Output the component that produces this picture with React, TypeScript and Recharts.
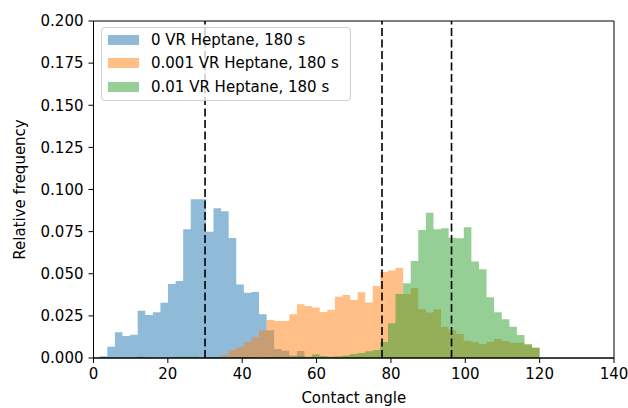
import { ComposedChart, Area, XAxis, YAxis, ReferenceLine, ReferenceArea } from 'recharts'

// shared histogram bins (degrees)
const binStart = 1.68
const binWidth = 2.04
const binCount = 58

const seriesNames = ['0 VR Heptane, 180 s', '0.001 VR Heptane, 180 s', '0.01 VR Heptane, 180 s']
const seriesColors = ['#1f77b4', '#ff7f0e', '#2ca02c']

const blueFirstBin = 0
const blueFreq = [
  0.001, 0.0067, 0.0153, 0.013, 0.0138, 0.028, 0.0255, 0.0271, 0.0328, 0.0439,
  0.0457, 0.0764, 0.0942, 0.0942, 0.075, 0.0888, 0.0871, 0.0712, 0.0436, 0.0387,
  0.0392, 0.026, 0.0164, 0.0053, 0.0043, 0.0015, 0.0042,
]

const orangeFirstBin = 16
const orangeFreq = [
  0.0016, 0.0046, 0.0064, 0.0095, 0.0123, 0.0164, 0.0226, 0.0219, 0.0219, 0.026,
  0.0319, 0.0309, 0.0299, 0.0273, 0.0287, 0.0364, 0.0374, 0.0344, 0.039, 0.033,
  0.0427, 0.051, 0.052, 0.0535, 0.038, 0.0415, 0.029, 0.027, 0.029, 0.0186,
  0.0165, 0.0142, 0.0103, 0.0093, 0.0083, 0.0097, 0.0113, 0.0101, 0.0091, 0.0091,
  0.0075, 0.006,
]

const greenFirstBin = 5
const greenFreq = [
  0.0007, 0, 0, 0, 0, 0.0007, 0.0008, 0.0007, 0, 0.0006,
  0.0006, 0, 0, 0.0006, 0.0006, 0, 0, 0.0005, 0.0007, 0.0008,
  0.0006, 0.001, 0.0008, 0.0022, 0.0012, 0.0008, 0.001, 0.0015, 0.0024, 0.003,
  0.004, 0.0047, 0.0095, 0.0206, 0.038, 0.0443, 0.0576, 0.076, 0.0862, 0.0764,
  0.077, 0.0714, 0.071, 0.0776, 0.0572, 0.0526, 0.036, 0.0271, 0.023, 0.0186,
  0.0136, 0.0083, 0.0063,
]

// dashed vertical lines (mean contact angles)
const meanAngles = [30.0, 77.6, 96.3]

const xTicks = [0, 20, 40, 60, 80, 100, 120, 140]
const yTicks = [0, 0.025, 0.05, 0.075, 0.1, 0.125, 0.15, 0.175, 0.2]

const valueAt = (freq: number[], first: number, j: number) =>
  j >= first && j < first + freq.length ? freq[j - first] : 0

const rows = Array.from({ length: binCount + 1 }, (_, j) => ({
  x: binStart + j * binWidth,
  blue: valueAt(blueFreq, blueFirstBin, j),
  orange: valueAt(orangeFreq, orangeFirstBin, j),
  green: valueAt(greenFreq, greenFirstBin, j),
}))

const font = 'DejaVu Sans, Verdana, sans-serif'
const tickStyle = { fill: '#000', fontSize: 15, fontFamily: font }

const rgba = (hex: string, a: number) => {
  const n = parseInt(hex.slice(1), 16)
  return `rgba(${(n >> 16) & 255}, ${(n >> 8) & 255}, ${n & 255}, ${a})`
}

function HistLegend() {
  return (
    <div
      style={{
        position: 'absolute',
        left: 101,
        top: 27,
        width: 250,
        height: 74,
        boxSizing: 'border-box',
        border: '1px solid #d0d0d0',
        borderRadius: 4,
        background: 'rgba(255,255,255,0.8)',
        fontFamily: font,
        fontSize: 15,
        color: '#000',
      }}
    >
      {seriesNames.map((name, i) => (
        <div key={name} style={{ position: 'absolute', left: 0, top: 11.5 + i * 23.5, height: 0 }}>
          <div
            style={{
              position: 'absolute',
              left: 6,
              top: -5,
              width: 31,
              height: 10,
              background: rgba(seriesColors[i], 0.5),
            }}
          />
          <span style={{ position: 'absolute', left: 49, top: -9, lineHeight: '18px', whiteSpace: 'nowrap' }}>
            {name}
          </span>
        </div>
      ))}
    </div>
  )
}

export default function App() {
  return (
    <div style={{ position: 'absolute', left: 0, top: 0, width: 628, height: 408, background: '#fff' }}>
      <ComposedChart width={628} height={408} data={rows} margin={{ top: 21, right: 14, bottom: 0, left: 0 }}>
        <XAxis
          dataKey="x"
          type="number"
          domain={[0, 140]}
          ticks={xTicks}
          height={50}
          tick={tickStyle}
          tickSize={5}
          tickMargin={5}
          stroke="#000"
          label={{
            value: 'Contact angle',
            position: 'insideBottom',
            offset: 5,
            style: { fill: '#000', fontSize: 15, fontFamily: font },
          }}
        />
        <YAxis
          type="number"
          domain={[0, 0.2]}
          ticks={yTicks}
          width={93.5}
          tick={tickStyle}
          tickSize={5}
          tickMargin={5}
          stroke="#000"
          tickFormatter={(v: number) => v.toFixed(3)}
          label={{
            value: 'Relative frequency',
            angle: -90,
            position: 'insideLeft',
            offset: 20,
            style: { fill: '#000', fontSize: 15, fontFamily: font, textAnchor: 'middle' },
          }}
        />
        <Area
          type="stepAfter"
          dataKey="blue"
          name={seriesNames[0]}
          stroke="none"
          fill={seriesColors[0]}
          fillOpacity={0.5}
          isAnimationActive={false}
        />
        <Area
          type="stepAfter"
          dataKey="orange"
          name={seriesNames[1]}
          stroke="none"
          fill={seriesColors[1]}
          fillOpacity={0.5}
          isAnimationActive={false}
        />
        <Area
          type="stepAfter"
          dataKey="green"
          name={seriesNames[2]}
          stroke="none"
          fill={seriesColors[2]}
          fillOpacity={0.5}
          isAnimationActive={false}
        />
        {meanAngles.map((m) => (
          <ReferenceLine key={m} x={m} stroke="#000" strokeWidth={1.6} strokeDasharray="8 3.5" />
        ))}
        <ReferenceArea x1={0} x2={140} y1={0} y2={0.2} fill="none" fillOpacity={0} stroke="#000" strokeWidth={1} />
      </ComposedChart>
      <HistLegend />
    </div>
  )
}
